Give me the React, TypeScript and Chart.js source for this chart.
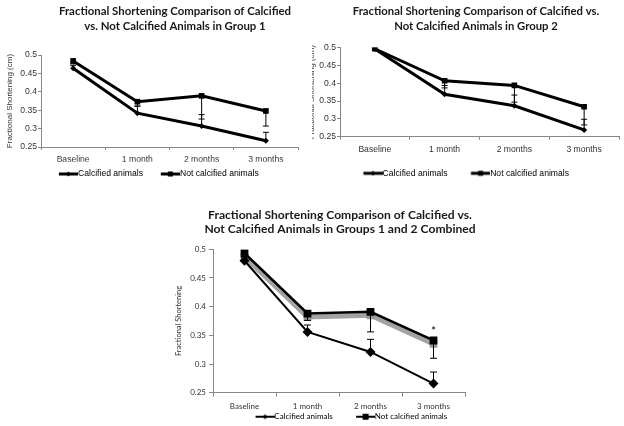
import React, { useEffect, useRef } from "react";
import { Chart, registerables } from "chart.js";

Chart.register(...registerables);

// ---------- data ----------
const categories = ["Baseline", "1 month", "2 months", "3 months"];
const yTickValues = [0.25, 0.3, 0.35, 0.4, 0.45, 0.5];
const yTickLabels = ["0.25", "0.3", "0.35", "0.4", "0.45", "0.5"];
const seriesNames = ["Calcified animals", "Not calcified animals"];

const title1 = ["Fractional Shortening Comparison of Calcified", "vs. Not Calcified Animals in Group 1"];
const title2 = ["Fractional Shortening Comparison of Calcified vs.", "Not Calcified Animals in Group 2"];
const title3 = ["Fractional Shortening Comparison of Calcified vs.", "Not Calcified Animals in Groups 1 and 2 Combined"];
const yTitleCm = "Fractional Shortening (cm)";
const yTitlePlain = "Fractional Shortening";

// Group 1
const g1Calcified = [0.464, 0.342, 0.307, 0.267];
const g1NotCalcified = [0.484, 0.373, 0.389, 0.348];
const g1CalcifiedErrPlus = [0.008, 0.019, 0.031, 0.023];
const g1NotCalcifiedErrMinus = [0.008, 0.012, 0.063, 0.041];

// Group 2
const g2Calcified = [0.496, 0.369, 0.337, 0.269];
const g2NotCalcified = [0.497, 0.407, 0.394, 0.334];
const g2CalcifiedErrPlus = [0.003, 0.025, 0.03, 0.03];
const g2NotCalcifiedErrMinus = [0.003, 0.02, 0.047, 0.051];

// Groups 1 and 2 combined
const combCalcified = [0.48, 0.356, 0.321, 0.266];
const combNotCalcified = [0.493, 0.388, 0.391, 0.341];
const combNotCalcifiedShadow = [0.487, 0.382, 0.385, 0.335];
const combCalcifiedErrPlus = [0.005, 0.012, 0.022, 0.02];
const combNotCalcifiedErrMinus = [0.005, 0.012, 0.035, 0.031];
const combSignificance = ["", "", "", "*"];

// ---------- helpers ----------
function makeLegendIcon(
  boxW: number,
  fontSize: number,
  lineLen: number,
  lineWidth: number,
  marker: "diamond" | "square",
  markerSize: number
) {
  const w = Math.round(boxW + fontSize);
  const h = 12;
  const c = document.createElement("canvas");
  c.width = w;
  c.height = h;
  const ctx = c.getContext("2d")!;
  ctx.strokeStyle = "#000";
  ctx.lineWidth = lineWidth;
  ctx.beginPath();
  ctx.moveTo(w - lineLen, h / 2);
  ctx.lineTo(w, h / 2);
  ctx.stroke();
  const cx = w - lineLen / 2;
  const cy = h / 2;
  ctx.fillStyle = "#000";
  if (marker === "square") {
    ctx.fillRect(cx - markerSize / 2, cy - markerSize / 2, markerSize, markerSize);
  } else {
    ctx.beginPath();
    ctx.moveTo(cx, cy - markerSize / 2);
    ctx.lineTo(cx + markerSize / 2, cy);
    ctx.lineTo(cx, cy + markerSize / 2);
    ctx.lineTo(cx - markerSize / 2, cy);
    ctx.closePath();
    ctx.fill();
  }
  return c;
}

const errorBarPlugin = {
  id: "errorBars",
  afterDatasetsDraw(chart: any, _args: any, opts: any) {
    const ctx = chart.ctx;
    const yScale = chart.scales.y;
    const cap = opts.cap ?? 3;
    ctx.save();
    chart.data.datasets.forEach((ds: any, di: number) => {
      const meta = chart.getDatasetMeta(di);
      meta.data.forEach((pt: any, i: number) => {
        const v = ds.data[i];
        const x = pt.x;
        const y0 = yScale.getPixelForValue(v);
        const draw = (end: number) => {
          const y1 = yScale.getPixelForValue(end);
          ctx.strokeStyle = ds.errorColor || "#000";
          ctx.lineWidth = 1;
          ctx.beginPath();
          ctx.moveTo(x, y0);
          ctx.lineTo(x, y1);
          ctx.moveTo(x - cap, y1);
          ctx.lineTo(x + cap, y1);
          ctx.stroke();
        };
        if (ds.errorPlus) draw(v + ds.errorPlus[i]);
        if (ds.errorMinus) draw(v - ds.errorMinus[i]);
        if (ds.significance && ds.significance[i]) {
          ctx.fillStyle = "#000";
          ctx.font = opts.sigFont || "11px Lato";
          ctx.textAlign = "center";
          ctx.textBaseline = "middle";
          ctx.fillText(ds.significance[i], x, y0 - (opts.sigOffset ?? 8));
        }
      });
    });
    ctx.restore();
  },
};

type PanelSpec = {
  left: number;
  top: number;
  w: number;
  h: number;
  title: string[];
  titleSize: number;
  titleLineHeight: number;
  titlePadTop: number;
  titlePadBottom: number;
  yAxisWidth: number;
  rightWidth: number;
  xAxisHeight: number;
  tickFamily: string;
  tickSize: number;
  xTickLength: number;
  xTickPadding: number;
  yTickLength: number;
  yTickPadding: number;
  yTitle: string;
  yTitleFamily: string;
  yTitleSize: number;
  yTitlePad: number;
  legendFamily: string;
  legendSize: number;
  legendFullSize: boolean;
  legendAlign: "start" | "center";
  legendPad: number;
  legendBoxW: number;
  legendLineLen: number;
  legendMaxHeight?: number;
  layoutBottom: number;
  calc: number[];
  notCalc: number[];
  shadow?: number[];
  calcErr: number[];
  notCalcErr: number[];
  sig?: string[];
  calcLine: number;
  notCalcLine: number;
  calcMarker: number;
  notCalcMarker: number;
  iconLine: number;
  iconDiamond: number;
  iconSquare: number;
  cap: number;
};

function buildConfig(s: PanelSpec): any {
  const axisColor = "#868686";
  const textColor = "#333";
  const datasets: any[] = [
    {
      label: seriesNames[0],
      data: s.calc,
      borderColor: "#000",
      backgroundColor: "#000",
      borderWidth: s.calcLine,
      pointStyle: "rectRot",
      pointRadius: s.calcMarker,
      pointBackgroundColor: "#000",
      pointBorderColor: "#000",
      pointBorderWidth: 0,
      tension: 0,
      errorPlus: s.calcErr,
    },
    {
      label: seriesNames[1],
      data: s.notCalc,
      borderColor: "#000",
      backgroundColor: "#000",
      borderWidth: s.notCalcLine,
      pointStyle: "rect",
      pointRadius: s.notCalcMarker,
      pointBackgroundColor: "#000",
      pointBorderColor: "#000",
      pointBorderWidth: 0,
      tension: 0,
      errorMinus: s.notCalcErr,
      significance: s.sig,
    },
  ];
  if (s.shadow) {
    datasets.push({
      label: "shadow",
      data: s.shadow,
      borderColor: "#a3a3a3",
      backgroundColor: "#a3a3a3",
      borderWidth: 5,
      pointStyle: "rect",
      pointRadius: s.notCalcMarker,
      pointBackgroundColor: "#9a9a9a",
      pointBorderWidth: 0,
      tension: 0,
    });
  }
  const iconCalc = makeLegendIcon(s.legendBoxW, s.legendSize, s.legendLineLen, s.iconLine, "diamond", s.iconDiamond);
  const iconNot = makeLegendIcon(s.legendBoxW, s.legendSize, s.legendLineLen, s.iconLine, "square", s.iconSquare);

  return {
    type: "line",
    data: { labels: categories, datasets },
    plugins: [errorBarPlugin],
    options: {
      responsive: false,
      animation: false,
      devicePixelRatio: 1,
      layout: { padding: { left: 0, right: 0, top: 0, bottom: s.layoutBottom } },
      plugins: {
        errorBars: { cap: s.cap, sigFont: "12px Lato", sigOffset: 9 },
        tooltip: { enabled: false },
        title: {
          display: true,
          text: s.title,
          color: "#1a1a1a",
          font: { family: "Lato", weight: "bold", size: s.titleSize, lineHeight: s.titleLineHeight },
          padding: { top: s.titlePadTop, bottom: s.titlePadBottom },
        },
        legend: {
          display: true,
          position: "bottom",
          fullSize: s.legendFullSize,
          align: s.legendAlign,
          maxHeight: s.legendMaxHeight,
          labels: {
            usePointStyle: true,
            pointStyleWidth: s.legendBoxW,
            padding: s.legendPad,
            color: textColor,
            font: { family: s.legendFamily, size: s.legendSize },
            generateLabels: () => [
              { text: seriesNames[0], pointStyle: iconCalc, fillStyle: "#000", strokeStyle: "#000", lineWidth: 0, hidden: false, datasetIndex: 0 },
              { text: seriesNames[1], pointStyle: iconNot, fillStyle: "#000", strokeStyle: "#000", lineWidth: 0, hidden: false, datasetIndex: 1 },
            ],
          },
        },
      },
      scales: {
        x: {
          type: "category",
          offset: true,
          grid: {
            display: true,
            offset: true,
            drawOnChartArea: false,
            drawTicks: true,
            tickLength: s.xTickLength,
            color: axisColor,
          },
          border: { display: true, color: axisColor, width: 1 },
          ticks: { color: textColor, font: { family: s.tickFamily, size: s.tickSize }, padding: s.xTickPadding, maxRotation: 0, autoSkip: false },
          afterFit: (sc: any) => {
            sc.height = s.xAxisHeight;
          },
        },
        y: {
          type: "linear",
          position: "left",
          min: 0.25,
          max: 0.5,
          afterBuildTicks: (sc: any) => {
            sc.ticks = yTickValues.map((v) => ({ value: v }));
          },
          grid: {
            display: true,
            drawOnChartArea: false,
            drawTicks: true,
            tickLength: s.yTickLength,
            color: axisColor,
          },
          border: { display: true, color: axisColor, width: 1 },
          ticks: {
            color: textColor,
            font: { family: s.tickFamily, size: s.tickSize },
            padding: s.yTickPadding,
            callback: (_v: any, i: number) => yTickLabels[i],
          },
          title: {
            display: true,
            text: s.yTitle,
            color: textColor,
            font: { family: s.yTitleFamily, size: s.yTitleSize, lineHeight: 1.2 },
            padding: { top: s.yTitlePad, bottom: 0 },
          },
          afterFit: (sc: any) => {
            sc.width = s.yAxisWidth;
          },
        },
        yRight: {
          type: "linear",
          position: "right",
          display: true,
          grid: { display: false, drawTicks: false },
          border: { display: false },
          ticks: { display: false },
          afterFit: (sc: any) => {
            sc.width = s.rightWidth;
          },
        },
      },
    },
  };
}

const panelA: PanelSpec = {
  left: 0, top: 0, w: 350, h: 195,
  title: title1, titleSize: 11.4, titleLineHeight: 1.3, titlePadTop: 4.2, titlePadBottom: 21.2,
  yAxisWidth: 41, rightWidth: 52, xAxisHeight: 14.7,
  tickFamily: "Liberation Sans", tickSize: 8.6, xTickLength: 3, xTickPadding: 4.8, yTickLength: 3, yTickPadding: 1,
  yTitle: yTitleCm, yTitleFamily: "Liberation Sans", yTitleSize: 8, yTitlePad: 5.2,
  legendFamily: "Liberation Sans", legendSize: 8.6, legendFullSize: false, legendAlign: "start",
  legendPad: 8, legendBoxW: 24.7, legendLineLen: 19, layoutBottom: 6.7,
  calc: g1Calcified, notCalc: g1NotCalcified, calcErr: g1CalcifiedErrPlus, notCalcErr: g1NotCalcifiedErrMinus,
  calcLine: 3, notCalcLine: 3, calcMarker: 3, notCalcMarker: 4,
  iconLine: 3, iconDiamond: 5, iconSquare: 5, cap: 3,
};

const panelB: PanelSpec = {
  left: 312, top: 0, w: 328, h: 195,
  title: title2, titleSize: 11.3, titleLineHeight: 1.3, titlePadTop: 4.2, titlePadBottom: 14.1,
  yAxisWidth: 28, rightWidth: 21, xAxisHeight: 24.3,
  tickFamily: "Liberation Sans", tickSize: 8.6, xTickLength: 3, xTickPadding: 5.1, yTickLength: 3, yTickPadding: 1,
  yTitle: yTitleCm, yTitleFamily: "Liberation Sans", yTitleSize: 8, yTitlePad: -5.5,
  legendFamily: "Liberation Sans", legendSize: 8.6, legendFullSize: false, legendAlign: "start",
  legendPad: 8, legendBoxW: 30.3, legendLineLen: 19.3, layoutBottom: 7.4,
  calc: g2Calcified, notCalc: g2NotCalcified, calcErr: g2CalcifiedErrPlus, notCalcErr: g2NotCalcifiedErrMinus,
  calcLine: 3, notCalcLine: 3, calcMarker: 3, notCalcMarker: 4,
  iconLine: 3, iconDiamond: 5, iconSquare: 5, cap: 3,
};

const panelC: PanelSpec = {
  left: 170, top: 200, w: 340, h: 226,
  title: title3, titleSize: 12.1, titleLineHeight: 1.18, titlePadTop: 7.85, titlePadBottom: 12.85,
  yAxisWidth: 43, rightWidth: 45, xAxisHeight: 19.5,
  tickFamily: "Lato", tickSize: 8, xTickLength: 4, xTickPadding: 5.2, yTickLength: 4, yTickPadding: 3,
  yTitle: yTitlePlain, yTitleFamily: "Lato", yTitleSize: 7.5, yTitlePad: 4,
  legendFamily: "Lato", legendSize: 8, legendFullSize: true, legendAlign: "center",
  legendPad: 0.5, legendBoxW: 37.5, legendLineLen: 19, legendMaxHeight: 13.8, layoutBottom: 0,
  calc: combCalcified, notCalc: combNotCalcified, shadow: combNotCalcifiedShadow,
  calcErr: combCalcifiedErrPlus, notCalcErr: combNotCalcifiedErrMinus, sig: combSignificance,
  calcLine: 2, notCalcLine: 2.5, calcMarker: 5, notCalcMarker: 5.5,
  iconLine: 2, iconDiamond: 5, iconSquare: 6, cap: 3.5,
};

function Panel({ spec }: { spec: PanelSpec }) {
  const ref = useRef<HTMLCanvasElement>(null);
  useEffect(() => {
    const chart = new Chart(ref.current!, buildConfig(spec));
    return () => chart.destroy();
  }, [spec]);
  return (
    <canvas
      ref={ref}
      width={spec.w}
      height={spec.h}
      style={{ position: "absolute", left: spec.left, top: spec.top, width: spec.w, height: spec.h }}
    />
  );
}

export default function App() {
  return (
    <div
      style={{
        position: "absolute",
        left: 0,
        top: 0,
        width: 624,
        height: 426,
        overflow: "hidden",
        background: "#fff",
      }}
    >
      <Panel spec={panelA} />
      <Panel spec={panelB} />
      <Panel spec={panelC} />
    </div>
  );
}
